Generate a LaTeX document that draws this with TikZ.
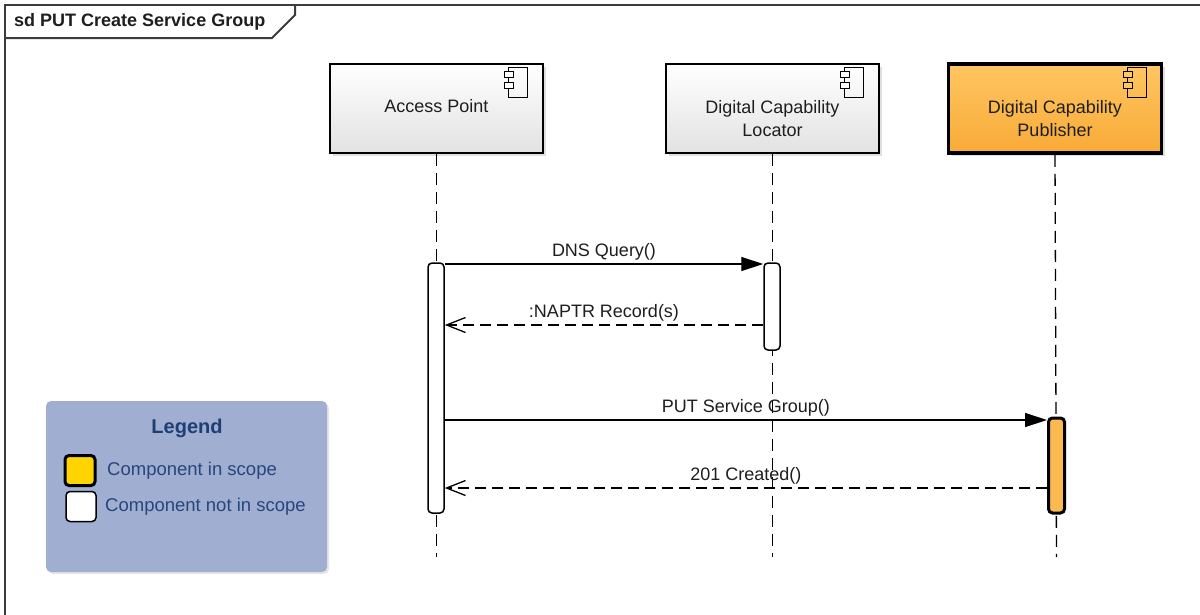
\documentclass[tikz,border=0pt]{standalone}
\usepackage{fontspec}
\setmainfont{Liberation Sans}
\usetikzlibrary{arrows.meta,shadows}
\definecolor{framec}{RGB}{60,60,60}
\definecolor{txtc}{RGB}{30,30,30}
\definecolor{boxbot}{RGB}{226,226,226}
\definecolor{orangetop}{RGB}{255,198,98}
\definecolor{orangebot}{RGB}{248,170,55}
\definecolor{actorange}{RGB}{250,186,80}
\definecolor{legendfill}{RGB}{159,174,209}
\definecolor{legendtitle}{RGB}{31,63,115}
\definecolor{legendtxt}{RGB}{40,70,125}
\definecolor{goldc}{RGB}{255,212,0}
\tikzset{
  frame/.style={draw=framec, line width=2pt},
  comp/.style={draw=black, line width=1.5pt, top color=white, bottom color=boxbot,
    minimum width=213pt, minimum height=89pt, inner sep=0pt,
    drop shadow={shadow xshift=3pt, shadow yshift=-3pt, opacity=.25, fill=gray}},
  compin/.style={comp, line width=3.5pt, top color=orangetop, bottom color=orangebot},
  boxtxt/.style={font=\fontsize{18}{23}\selectfont, text=txtc, align=center, inner sep=0pt},
  lifeline/.style={draw=black, line width=1.3pt, dash pattern=on 12pt off 7pt},
  actbar/.style={draw=black, line width=1.5pt, fill=white, rounded corners=4pt,
    minimum width=16pt, inner sep=0pt},
  actbarin/.style={actbar, line width=3pt, fill=actorange},
  syncmsg/.style={draw=black, line width=1.3pt, -{Triangle[length=22pt, width=14pt]}},
  replymsg/.style={draw=black, line width=1.3pt, dash pattern=on 11pt off 6pt,
    -{Straight Barb[length=19pt, width=15pt, line width=1.3pt]}},
  msgtxt/.style={font=\fontsize{18}{21}\selectfont, text=txtc, inner sep=0pt, above=3pt},
  pics/compicon/.style={code={
    \draw[line width=1.4pt] (0,0) rectangle (19,30);
    \draw[line width=1.4pt, fill=#1] (-4,4) rectangle (5,10);
    \draw[line width=1.4pt, fill=#1] (-4,15) rectangle (5,21);
  }},
  swatch/.style={draw=black, rounded corners=4pt, minimum width=30pt, minimum height=30pt, inner sep=0pt},
  legtxt/.style={font=\fontsize{18.5}{21}\selectfont, text=legendtxt, anchor=west, inner sep=0pt}
}
\begin{document}
\begin{tikzpicture}[x=1pt,y=-1pt]
\useasboundingbox (0,0) rectangle (1200,614);
\fill[white] (0,0) rectangle (1200,614);
% frame
\draw[frame] (5,616) -- (5,5) -- (1202,5);
\draw[frame] (5,38) -- (272,38) -- (295,15) -- (295,5);
\node[font=\bfseries\fontsize{18}{21}\selectfont, text=txtc, anchor=west, inner sep=0pt] (title) at (14,21.5) {sd PUT Create Service Group};

% lifeline ends
\coordinate (apend) at (436.5,557);
\coordinate (dclend) at (772.5,557);
\coordinate (dcpend) at (1056.5,557);

% component boxes
\node[comp] (ap) at (436.5,108.5) {};
\node[comp] (dcl) at (772.5,108.5) {};
\node[compin] (dcp) at (1055,108.5) {};

\draw[lifeline] (ap.south) -- (apend);
\draw[lifeline] (dcl.south) -- (dclend);
\draw[lifeline] (dcp.south) -- (dcpend);

\node[boxtxt] (aptxt) at (436.5,106.5) {Access Point};
\node[boxtxt] (dcltxt) at (772.5,119) {Digital Capability\\Locator};
\node[boxtxt] (dcptxt) at (1055,119) {Digital Capability\\Publisher};

\pic at ([xshift=-35pt, yshift=-4pt]ap.north east) {compicon=white};
\pic at ([xshift=-35pt, yshift=-4pt]dcl.north east) {compicon=white};
\pic at ([xshift=-36pt, yshift=-5pt]dcp.north east) {compicon=orangetop};

% activation bars
\node[actbar, minimum height=250pt] (apact) at (436,388) {};
\node[actbar, minimum height=87pt] (dclact) at (772,306.5) {};
\node[actbarin, minimum height=95pt] (dcpact) at (1056.5,465.5) {};

% message rows
\coordinate (m1) at (0,264);
\coordinate (m2) at (0,325);
\coordinate (m3) at (0,420);
\coordinate (m4) at (0,488);

\draw[syncmsg] (apact.east |- m1) -- (dclact.west |- m1) node[msgtxt, midway] (l1) {DNS Query()};
\draw[replymsg] (dclact.west |- m2) -- (apact.east |- m2) node[msgtxt, midway] (l2) {:NAPTR Record(s)};
\draw[syncmsg] (apact.east |- m3) -- (dcpact.west |- m3) node[msgtxt, midway] (l3) {PUT Service Group()};
\draw[replymsg] (dcpact.west |- m4) -- (apact.east |- m4) node[msgtxt, midway] (l4) {201 Created()};

% legend
\node[fill=legendfill, rounded corners=5pt, minimum width=281pt, minimum height=171pt, inner sep=0pt,
  drop shadow={shadow xshift=2pt, shadow yshift=-2pt, opacity=.2, fill=gray}] (legend) at (186.5,486.5) {};
\node[font=\bfseries\fontsize{20}{24}\selectfont, text=legendtitle, inner sep=0pt] (legtitle) at (187,428) {Legend};
\node[swatch, fill=goldc, line width=3pt] (sw1) at (80,470.5) {};
\node[swatch, fill=white, line width=1.5pt] (sw2) at (81,506.5) {};
\node[legtxt] (lt1) at (107,471) {Component in scope};
\node[legtxt] (lt2) at (105,506.5) {Component not in scope};
\end{tikzpicture}
\end{document}
